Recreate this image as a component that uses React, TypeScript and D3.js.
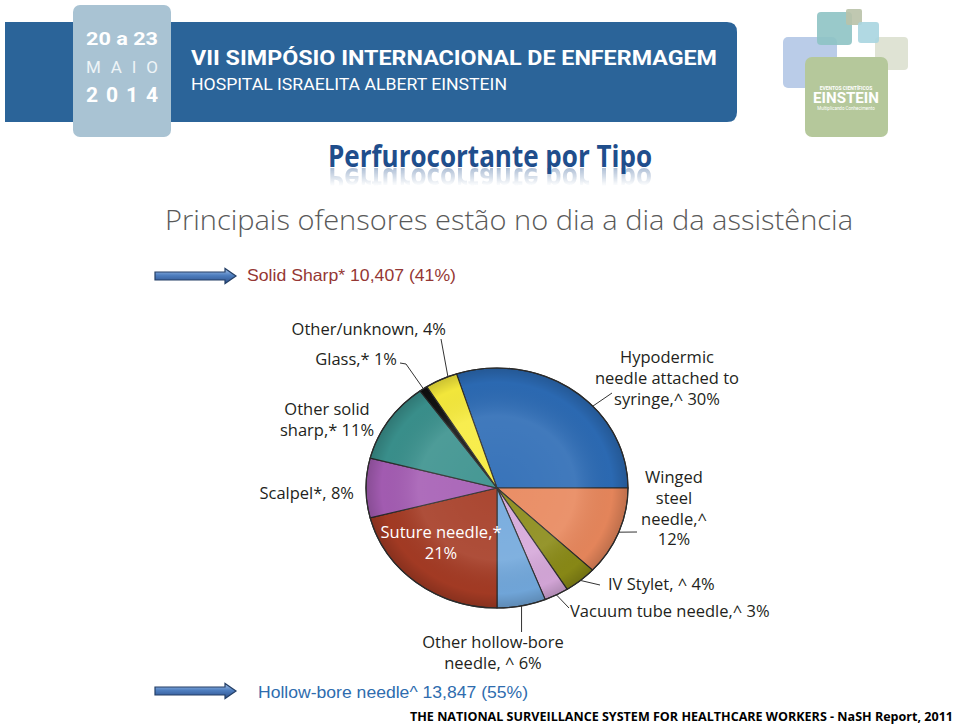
import React from 'react';
import * as d3 from 'd3';

// pie data (NaSH report 2011)
const sliceNames = [
  'Hypodermic needle attached to syringe',
  'Winged steel needle',
  'IV Stylet',
  'Vacuum tube needle',
  'Other hollow-bore needle',
  'Suture needle',
  'Scalpel',
  'Other solid sharp',
  'Glass',
  'Other/unknown',
];
const sliceValues = [30, 12, 4, 3, 6, 21, 8, 11, 1, 4];
const sliceColors = [
  '#2c6bb5', '#e8875c', '#8a8a16', '#d5a7d9', '#72a8dc',
  '#a53b24', '#a55db4', '#3a918d', '#111111', '#f7eb3c',
];
const sliceLabelLines = [
  ['Hypodermic', 'needle attached to', 'syringe,^ 30%'],
  ['Winged', 'steel', 'needle,^', '12%'],
  ['IV Stylet, ^ 4%'],
  ['Vacuum tube needle,^ 3%'],
  ['Other hollow-bore', 'needle, ^ 6%'],
  ['Suture needle,*', '21%'],
  ['Scalpel*, 8%'],
  ['Other solid', 'sharp,* 11%'],
  ['Glass,* 1%'],
  ['Other/unknown, 4%'],
];

const headerDates = ['20 a 23', 'M A I O', '2014'];
const headerTitle = 'VII SIMPÓSIO INTERNACIONAL DE ENFERMAGEM';
const headerSub = 'HOSPITAL ISRAELITA ALBERT EINSTEIN';
const slideTitle = 'Perfurocortante por Tipo';
const slideSubtitle = 'Principais ofensores estão no dia a dia da assistência';
const solidText = 'Solid Sharp* 10,407 (41%)';
const hollowText = 'Hollow-bore needle^ 13,847 (55%)';
const footerText = 'THE NATIONAL SURVEILLANCE SYSTEM FOR HEALTHCARE WORKERS - NaSH Report, 2011';

// label placement (x, first baseline, anchor, leader)
const labelLayout: any[] = [
  { x: 667, y: 363, anchor: 'middle', leader: [[612, 393]], angle: 47 },
  { x: 674, y: 483, anchor: 'middle', leader: [[637, 532]] },
  { x: 608, y: 590, anchor: 'start', leader: [[600, 585]] },
  { x: 570, y: 617, anchor: 'start', leader: [[569, 608]] },
  { x: 493, y: 648, anchor: 'middle', leader: 'down', downTo: 632 },
  { x: 441, y: 538, anchor: 'middle', leader: null, white: true },
  { x: 354, y: 499, anchor: 'end', leader: null },
  { x: 327, y: 415, anchor: 'middle', leader: null },
  { x: 397, y: 365, anchor: 'end', leader: [[400, 363], [406, 364]] },
  { x: 446, y: 335, anchor: 'end', leader: [[441, 339]], angle: 338 },
];

const cx = 497;
const cy = 488;
const rx = 131;
const ry = 120;
const lineH = 20.8;
const labelFont = '"Open Sans", "Noto Sans", sans-serif';

const Arrow = ({ x, y, len }: { x: number; y: number; len: number }) => {
  const head = 11;
  const sh = 4;
  const hh = 7.5;
  const d = `M${x},${y - sh} L${x + len - head},${y - sh} L${x + len - head},${y - hh} L${x + len},${y} L${x + len - head},${y + hh} L${x + len - head},${y + sh} L${x},${y + sh} Z`;
  return <path d={d} fill="url(#arrowGrad)" stroke="#243f66" strokeWidth={1.2} />;
};

const App = () => {
  const pie = d3
    .pie<number>()
    .sort(null)
    .startAngle(-0.1 * Math.PI)
    .endAngle(1.9 * Math.PI);
  const arcs = pie(sliceValues);
  const arc = d3.arc<d3.PieArcDatum<number>>().innerRadius(0).outerRadius(rx);

  const edge = (a: number) => [cx + rx * Math.sin(a), cy - ry * Math.cos(a)];

  const leaders = labelLayout.map((l, i) => {
    if (!l.leader) return null;
    const mid = (arcs[i].startAngle + arcs[i].endAngle) / 2;
    const a = l.angle != null ? (l.angle * Math.PI) / 180 : mid;
    const e = edge(a);
    if (l.leader === 'down') return [e, [e[0], l.downTo]];
    return [...l.leader, e];
  });

  return (
    <svg
      width={960}
      height={726}
      style={{ position: 'absolute', left: 0, top: 0, background: '#fff' }}
    >
      <defs>
        <linearGradient id="arrowGrad" x1="0" y1="0" x2="0" y2="1">
          <stop offset="0" stopColor="#a9c4ea" />
          <stop offset="0.45" stopColor="#4f7fc0" />
          <stop offset="1" stopColor="#2c4f8a" />
        </linearGradient>
        <radialGradient id="pieShade" cx="0.5" cy="0.5" r="0.5">
          <stop offset="0" stopColor="#fff" stopOpacity={0.06} />
          <stop offset="0.6" stopColor="#fff" stopOpacity={0.1} />
          <stop offset="0.88" stopColor="#000" stopOpacity={0.02} />
          <stop offset="1" stopColor="#000" stopOpacity={0.18} />
        </radialGradient>
        <linearGradient id="reflFade" x1="0" y1="0" x2="0" y2="1">
          <stop offset="0" stopColor="#fff" stopOpacity={0.45} />
          <stop offset="1" stopColor="#fff" stopOpacity={0} />
        </linearGradient>
        <mask id="reflMask" maskUnits="userSpaceOnUse">
          <rect x={300} y={168} width={380} height={18} fill="url(#reflFade)" />
        </mask>
      </defs>

      {/* header banner */}
      <path
        d="M5,22 H727 Q737,22 737,32 V112 Q737,122 727,122 H5 Z"
        fill="#2b6499"
      />
      <rect x={73} y={5} width={98} height={132} rx={7} fill="#a9c3d3" />
      <g fontFamily="Roboto, 'DejaVu Sans', sans-serif" fill="#fff" textAnchor="middle">
        <text x={122} y={45} fontSize={18} fontWeight={700} textLength={72} lengthAdjust="spacingAndGlyphs">
          {headerDates[0]}
        </text>
        <text x={122} y={73} fontSize={17} fill="#eef4f7" textLength={72} lengthAdjust="spacing">
          {headerDates[1]}
        </text>
        <text x={122} y={102} fontSize={21} fontWeight={700} textLength={72} lengthAdjust="spacing">
          {headerDates[2]}
        </text>
      </g>
      <g fontFamily="Roboto, 'DejaVu Sans', sans-serif" fill="#fff">
        <text x={191} y={65} fontSize={21} fontWeight={700} textLength={526} lengthAdjust="spacingAndGlyphs">
          {headerTitle}
        </text>
        <text x={191} y={90} fontSize={17} textLength={316} lengthAdjust="spacingAndGlyphs">
          {headerSub}
        </text>
      </g>

      {/* logo squares */}
      <g>
        <rect x={783} y={37} width={54} height={51} rx={5} fill="#b3c6e6" opacity={0.9} />
        <rect x={875} y={37} width={33} height={33} rx={4} fill="#dfe3d4" />
        <rect x={817} y={12} width={35} height={33} rx={4} fill="#8ec3c4" opacity={0.9} />
        <rect x={846} y={9} width={16} height={16} rx={2} fill="#b9c2a9" opacity={0.9} />
        <rect x={858} y={22} width={21} height={21} rx={3} fill="#a9d5e0" opacity={0.9} />
        <rect x={805} y={57} width={83} height={80} rx={7} fill="#b5c89b" />
        <g fill="#fff" textAnchor="middle" fontFamily="Roboto, sans-serif" fontWeight={700}>
          <text x={846} y={90} fontSize={5}>EVENTOS CIENTÍFICOS</text>
          <text x={846} y={103} fontSize={14} textLength={66} lengthAdjust="spacingAndGlyphs">EINSTEIN</text>
          <text x={846} y={110} fontSize={4.5} fontWeight={400}>Multiplicando Conhecimento</text>
        </g>
      </g>

      {/* slide title with reflection (reflection reuses the same text node) */}
      <g fontFamily="'Open Sans', sans-serif" fontWeight={700} fontSize={31} textAnchor="middle">
        <text id="slideTitle" x={490} y={167} fill="#1f4e8c" textLength={324} lengthAdjust="spacingAndGlyphs">
          {slideTitle}
        </text>
        <g mask="url(#reflMask)" opacity={0.8}>
          <use href="#slideTitle" transform={`translate(0, ${2 * 167 + 1}) scale(1,-1)`} />
        </g>
      </g>
      <text
        x={165}
        y={230}
        fontFamily="'Open Sans', 'Noto Sans', sans-serif"
        fontWeight={300}
        fontSize={28}
        fill="#595959"
        textLength={688}
        lengthAdjust="spacingAndGlyphs"
      >
        {slideSubtitle}
      </text>

      {/* arrows + group totals */}
      <Arrow x={155} y={276} len={81} />
      <text x={247} y={281} fontFamily="'Liberation Sans', Arial, sans-serif" fontSize={16.5} fill="#953734" textLength={209} lengthAdjust="spacingAndGlyphs">
        {solidText}
      </text>
      <Arrow x={155} y={691} len={81} />
      <text x={258} y={698} fontFamily="'Liberation Sans', Arial, sans-serif" fontSize={16.5} fill="#2e6cae" textLength={270} lengthAdjust="spacingAndGlyphs">
        {hollowText}
      </text>

      {/* pie */}
      <g transform={`translate(${cx},${cy}) scale(1,${ry / rx})`}>
        {arcs.map((a, i) => (
          <path
            key={sliceNames[i]}
            d={arc(a) || ''}
            fill={sliceColors[i]}
            stroke="#2b2b2b"
            strokeWidth={1.1}
            vectorEffect="non-scaling-stroke"
          />
        ))}
        <circle r={rx} fill="url(#pieShade)" pointerEvents="none" />
        <circle r={rx} fill="none" stroke="#2b2b2b" strokeWidth={1.2} vectorEffect="non-scaling-stroke" />
      </g>

      {/* leader lines */}
      <g fill="none" stroke="#333" strokeWidth={1}>
        {leaders.map((pts, i) =>
          pts ? <polyline key={i} points={pts.map((p: number[]) => p.join(',')).join(' ')} /> : null
        )}
      </g>

      {/* slice labels */}
      <g fontFamily={labelFont} fontSize={16.5}>
        {sliceLabelLines.map((lines, i) => {
          const l = labelLayout[i];
          return (
            <text key={i} textAnchor={l.anchor} fill={l.white ? '#fff' : '#231f20'}>
              {lines.map((s, j) => (
                <tspan key={j} x={l.x} y={l.y + j * lineH}>
                  {s}
                </tspan>
              ))}
            </text>
          );
        })}
      </g>

      <text
        x={953}
        y={721}
        textAnchor="end"
        fontFamily="'Open Sans', 'Noto Sans', sans-serif"
        fontWeight={700}
        fontSize={12.5}
        fill="#000"
        textLength={543}
        lengthAdjust="spacingAndGlyphs"
      >
        {footerText}
      </text>
    </svg>
  );
};

export default App;
